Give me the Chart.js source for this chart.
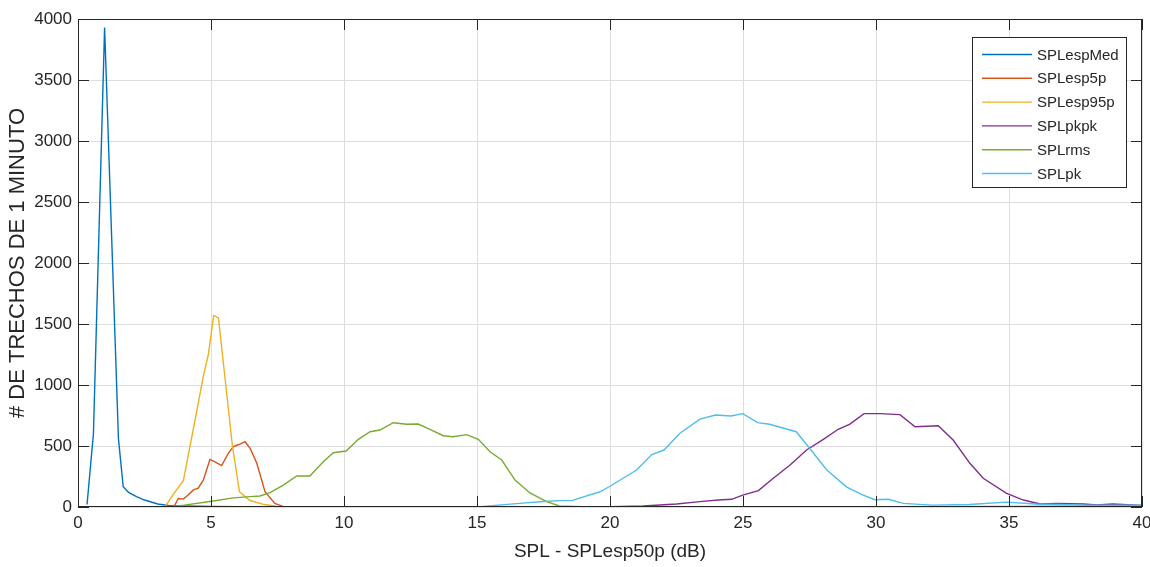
<!DOCTYPE html>
<html lang="pt-BR">
<head>
<meta charset="utf-8">
<title>Histograma SPL</title>
<script src="https://cdn.jsdelivr.net/npm/chart.js@4.4.1/dist/chart.umd.min.js"></script>
<style>
  html, body { margin: 0; padding: 0; background: #fff; overflow: hidden; }
  #caixa { width: 1150px; height: 567px; }
</style>
</head>
<body>
<div id="caixa"><canvas id="graficoSPL"></canvas></div>
<script>
// Valores (x = SPL - SPLesp50p em dB, y = nº de trechos)
const espMedX = [0.34, 0.58, 1.0, 1.52, 1.70, 1.90, 2.2, 2.5, 3.0, 3.4, 4.0, 5.0, 6.0, 8.0, 15, 25, 40];
const espMedY = [20, 600, 3930, 560, 166, 120, 85, 57, 25, 12, 8, 5, 3, 1, 0, 0, 0];

const esp5pX = [3.6, 3.77, 3.96, 4.15, 4.34, 4.52, 4.71, 4.96, 5.15, 5.40, 5.65, 5.84, 6.03, 6.28, 6.47, 6.72, 7.03, 7.4, 7.7, 10, 20, 30, 40];
const esp5pY = [0, 70, 65, 100, 140, 155, 220, 390, 370, 340, 440, 495, 510, 535, 480, 360, 125, 30, 5, 2, 0, 0, 0];

const esp95pX = [3.27, 3.6, 3.96, 4.3, 4.71, 4.9, 5.1, 5.28, 5.8, 6.07, 6.45, 7.0, 7.5, 10, 20, 30, 40];
const esp95pY = [0, 110, 215, 600, 1068, 1250, 1570, 1550, 510, 125, 55, 20, 5, 2, 0, 0, 0];

const pkpkX = [15, 20, 21.25, 22.5, 23.38, 24.07, 24.57, 24.99, 25.58, 26.14, 26.77, 27.39, 28.02, 28.58, 29.02, 29.55, 30.15, 30.9, 31.47, 32.34, 32.9, 33.53, 34.03, 34.91, 35.54, 36.17, 36.8, 37.8, 38.3, 38.9, 40];
const pkpkY = [0, 2, 8, 25, 44, 57, 63, 98, 134, 235, 344, 467, 555, 637, 680, 765, 765, 757, 658, 666, 549, 358, 235, 112, 57, 25, 30, 25, 17, 25, 12];

const rmsX = [3.3, 4.0, 4.96, 5.84, 6.47, 6.84, 7.22, 7.72, 8.22, 8.72, 9.22, 9.6, 10.08, 10.54, 10.98, 11.35, 11.85, 12.36, 12.79, 13.23, 13.73, 14.1, 14.61, 15.05, 15.49, 15.93, 16.43, 16.99, 17.62, 18.1, 19, 25, 30, 35, 40];
const rmsY = [0, 15, 45, 75, 85, 90, 117, 180, 254, 254, 371, 445, 459, 555, 617, 631, 691, 678, 680, 637, 584, 576, 593, 555, 453, 385, 221, 115, 44, 8, 3, 2, 2, 5, 10];

const pkX = [10, 15, 16.6, 17.5, 18.1, 18.56, 19.62, 20.0, 21.0, 21.57, 22.03, 22.63, 23.38, 23.97, 24.55, 24.99, 25.55, 26.0, 27.0, 27.46, 28.15, 28.9, 29.52, 29.96, 30.46, 31.03, 32.1, 33.5, 34.9, 36.0, 38, 40];
const pkY = [0, 0, 30, 45, 52, 52, 125, 170, 303, 430, 467, 605, 720, 754, 746, 765, 691, 678, 617, 494, 303, 163, 98, 60, 63, 30, 15, 20, 40, 25, 15, 15];

const nomesSeries = ['SPLespMed', 'SPLesp5p', 'SPLesp95p', 'SPLpkpk', 'SPLrms', 'SPLpk'];
const coresSeries = ['#0072BD', '#D95319', '#EDB120', '#7E2F8E', '#77AC30', '#4DBEEE'];

const ticksX = [0, 5, 10, 15, 20, 25, 30, 35, 40];
const ticksY = [0, 500, 1000, 1500, 2000, 2500, 3000, 3500, 4000];

const corEixo = '#262626';
Chart.defaults.font.family = "'Liberation Sans', Arial, sans-serif";
Chart.defaults.color = corEixo;

// junta x e y de cada série em pontos {x, y}
function montarPontos(xs, ys) {
    let pontos = [];
    for (let i = 0; i < xs.length; i++) {
        pontos.push({ x: xs[i], y: ys[i] });
    }
    return pontos;
}

const todasX = [espMedX, esp5pX, esp95pX, pkpkX, rmsX, pkX];
const todasY = [espMedY, esp5pY, esp95pY, pkpkY, rmsY, pkY];

let datasets = [];
for (let i = 0; i < nomesSeries.length; i++) {
    datasets.push({
        label: nomesSeries[i],
        data: montarPontos(todasX[i], todasY[i]),
        borderColor: coresSeries[i],
        backgroundColor: coresSeries[i],
        borderWidth: 1.4,
        pointRadius: 0,
        showLine: true,
        tension: 0,
        order: nomesSeries.length - i // última série por cima, como no MATLAB
    });
}

// moldura, ticks para dentro e legenda no canto superior direito
const molduraMatlab = {
    id: 'molduraMatlab',
    afterDraw(chart) {
        const ctx = chart.ctx;
        const a = chart.chartArea;
        const sx = chart.scales.x;
        const sy = chart.scales.y;
        const tam = 11;
        ctx.save();
        ctx.strokeStyle = corEixo;
        ctx.lineWidth = 1;
        ctx.beginPath();
        ticksX.forEach(function (v) {
            const p = Math.round(sx.getPixelForValue(v)) + 0.5;
            ctx.moveTo(p, a.bottom); ctx.lineTo(p, a.bottom - tam);
            ctx.moveTo(p, a.top); ctx.lineTo(p, a.top + tam);
        });
        ticksY.forEach(function (v) {
            const p = Math.round(sy.getPixelForValue(v)) + 0.5;
            ctx.moveTo(a.left, p); ctx.lineTo(a.left + tam, p);
            ctx.moveTo(a.right, p); ctx.lineTo(a.right - tam, p);
        });
        ctx.stroke();
        ctx.strokeRect(Math.round(a.left) + 0.5, Math.round(a.top) + 0.5,
            Math.round(a.right - a.left) - 1, Math.round(a.bottom - a.top) - 1);

        // legenda
        const lx = Math.round(a.right) - 170;
        const ly = Math.round(a.top) + 18;
        const lw = 154, lh = 150;
        ctx.fillStyle = '#ffffff';
        ctx.fillRect(lx, ly, lw, lh);
        ctx.strokeStyle = corEixo;
        ctx.strokeRect(lx + 0.5, ly + 0.5, lw, lh);
        ctx.font = "15px 'Liberation Sans', Arial, sans-serif";
        ctx.textBaseline = 'middle';
        ctx.textAlign = 'left';
        chart.data.datasets.forEach(function (ds, i) {
            const yy = ly + 17.5 + i * 23.8;
            ctx.strokeStyle = ds.borderColor;
            ctx.lineWidth = 1.4;
            ctx.beginPath();
            ctx.moveTo(lx + 10, yy);
            ctx.lineTo(lx + 60, yy);
            ctx.stroke();
            ctx.fillStyle = corEixo;
            ctx.fillText(ds.label, lx + 65, yy + 1);
        });
        ctx.restore();
    }
};

// rótulos sem separador de milhar
function rotuloSimples(valor) {
    return String(valor);
}

const config = {
    type: 'scatter',
    data: { datasets: datasets },
    options: {
        responsive: true,
        maintainAspectRatio: false,
        animation: false,
        layout: { padding: { top: 19, right: 0, left: 0, bottom: 0 } },
        plugins: {
            legend: { display: false },
            tooltip: { enabled: false }
        },
        scales: {
            x: {
                type: 'linear',
                min: 0,
                max: 40,
                afterBuildTicks: function (scale) {
                    scale.ticks = ticksX.map(function (v) { return { value: v }; });
                },
                afterFit: function (scale) {
                    scale.height = 60;
                    scale.paddingLeft = 0;
                    scale.paddingRight = 8;
                },
                grid: { color: '#dedede', drawTicks: false },
                border: { display: false },
                ticks: { font: { size: 17 }, padding: 6, color: corEixo, maxRotation: 0, callback: rotuloSimples },
                title: {
                    display: true,
                    text: 'SPL - SPLesp50p (dB)',
                    font: { size: 19 },
                    color: corEixo,
                    padding: { top: 0, bottom: 4 }
                }
            },
            y: {
                type: 'linear',
                min: 0,
                max: 4000,
                afterBuildTicks: function (scale) {
                    scale.ticks = ticksY.map(function (v) { return { value: v }; });
                },
                afterFit: function (scale) {
                    scale.width = 78;
                    scale.paddingTop = 0;
                    scale.paddingBottom = 0;
                },
                grid: { color: '#dedede', drawTicks: false },
                border: { display: false },
                ticks: { font: { size: 17 }, padding: 6, color: corEixo, callback: rotuloSimples },
                title: {
                    display: true,
                    text: '# DE TRECHOS DE 1 MINUTO',
                    font: { size: 22 },
                    color: corEixo,
                    padding: { top: 5, bottom: 0 }
                }
            }
        }
    },
    plugins: [molduraMatlab]
};

let grafico = new Chart(document.getElementById('graficoSPL'), config);
</script>
</body>
</html>
